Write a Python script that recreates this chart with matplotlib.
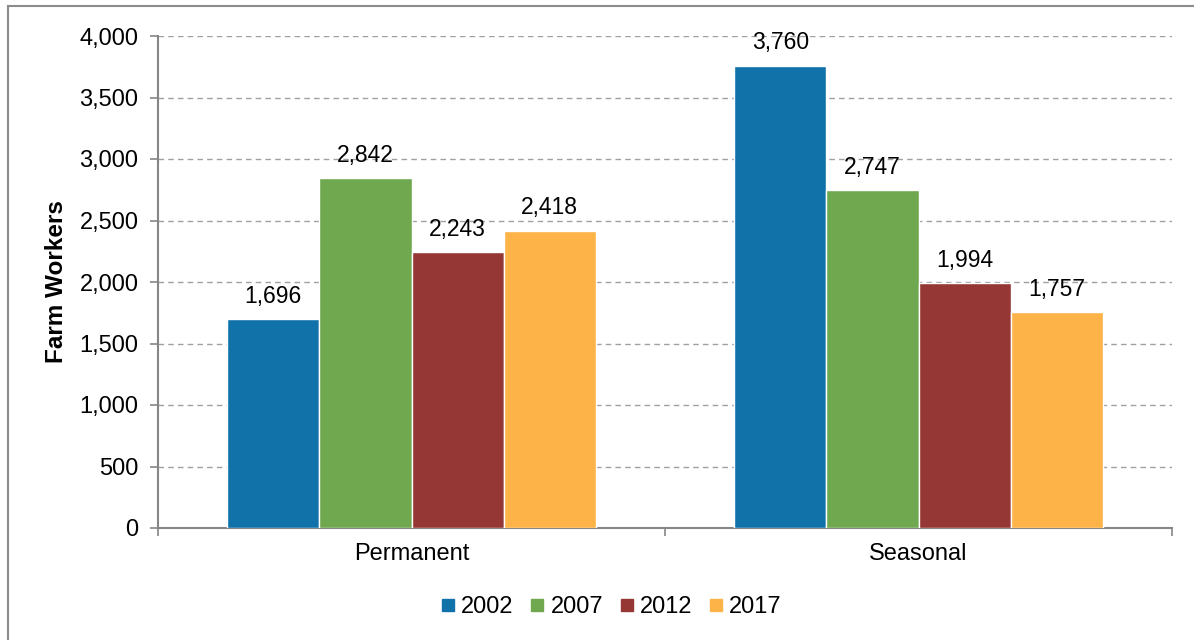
import matplotlib
matplotlib.use("Agg")
import matplotlib.pyplot as plt
import numpy as np
from matplotlib.lines import Line2D

categories = ["Permanent", "Seasonal"]
years = ["2002", "2007", "2012", "2017"]
values = {
    "2002": [1696, 3760],
    "2007": [2842, 2747],
    "2012": [2243, 1994],
    "2017": [2418, 1757],
}
colors = ["#1172AA", "#70A84F", "#953735", "#FDB347"]
yticks = [0, 500, 1000, 1500, 2000, 2500, 3000, 3500, 4000]

plt.rcParams['font.family'] = ['Liberation Sans', 'DejaVu Sans']
fig = plt.figure(figsize=(11.94, 6.4), dpi=100)
ax = fig.add_axes([158/1194, 1-528/640, (1172-158)/1194, (528-36)/640])

gray = "#868686"
x = np.arange(len(categories))
w = 1/5.5
for i, (yr, c) in enumerate(zip(years, colors)):
    pos = x + (i - 1.5) * w
    bars = ax.bar(pos, values[yr], width=w, color=c, edgecolor="white", linewidth=1, label=yr, zorder=3)
    for p, v in zip(pos, values[yr]):
        ax.annotate(f"{v:,}", (p, v), xytext=(0, 8), textcoords="offset points",
                    ha="center", va="bottom", fontsize=16.5, color="black")

ax.set_xlim(-0.5, 1.5)
ax.set_ylim(0, 4000)
ax.set_yticks(yticks)
ax.set_yticklabels([f"{t:,}" for t in yticks], fontsize=17)
ax.yaxis.grid(True, linestyle=(0, (4, 3)), color="#A0A0A0", linewidth=1, zorder=0)
ax.set_xticks([-0.5, 0.5, 1.5])
ax.set_xticklabels([])
ax.set_xticks(x, minor=True)
ax.set_xticklabels(categories, minor=True, fontsize=17)
ax.tick_params(axis="x", which="minor", length=0, pad=11)
ax.tick_params(axis="x", which="major", length=6, color=gray, direction="out", width=1.2)
ax.tick_params(axis="y", length=6, color=gray, width=1.2, pad=8)
for s in ["top", "right"]:
    ax.spines[s].set_visible(False)
for s in ["left", "bottom"]:
    ax.spines[s].set_color(gray)
    ax.spines[s].set_linewidth(1.5)
ax.set_ylabel("Farm Workers", fontsize=17.5, fontweight="bold", labelpad=8)

handles = [Line2D([], [], marker="s", linestyle="none", markersize=9, markerfacecolor=c, markeredgecolor=c) for c in colors]
fig.legend(handles, years, loc="center", bbox_to_anchor=(609/1194, 1-607/640), ncol=4, frameon=False,
           fontsize=17, handletextpad=0.05, columnspacing=0.5, handlelength=1.0)

# outer border (chart area)
fig.add_artist(Line2D([8/1194, 8/1194], [0, 1-6/640], transform=fig.transFigure, color="#8C8C8C", linewidth=1.5))
fig.add_artist(Line2D([8/1194, 1], [1-6/640, 1-6/640], transform=fig.transFigure, color="#8C8C8C", linewidth=1.5))

fig.savefig("out.png", dpi=100)
